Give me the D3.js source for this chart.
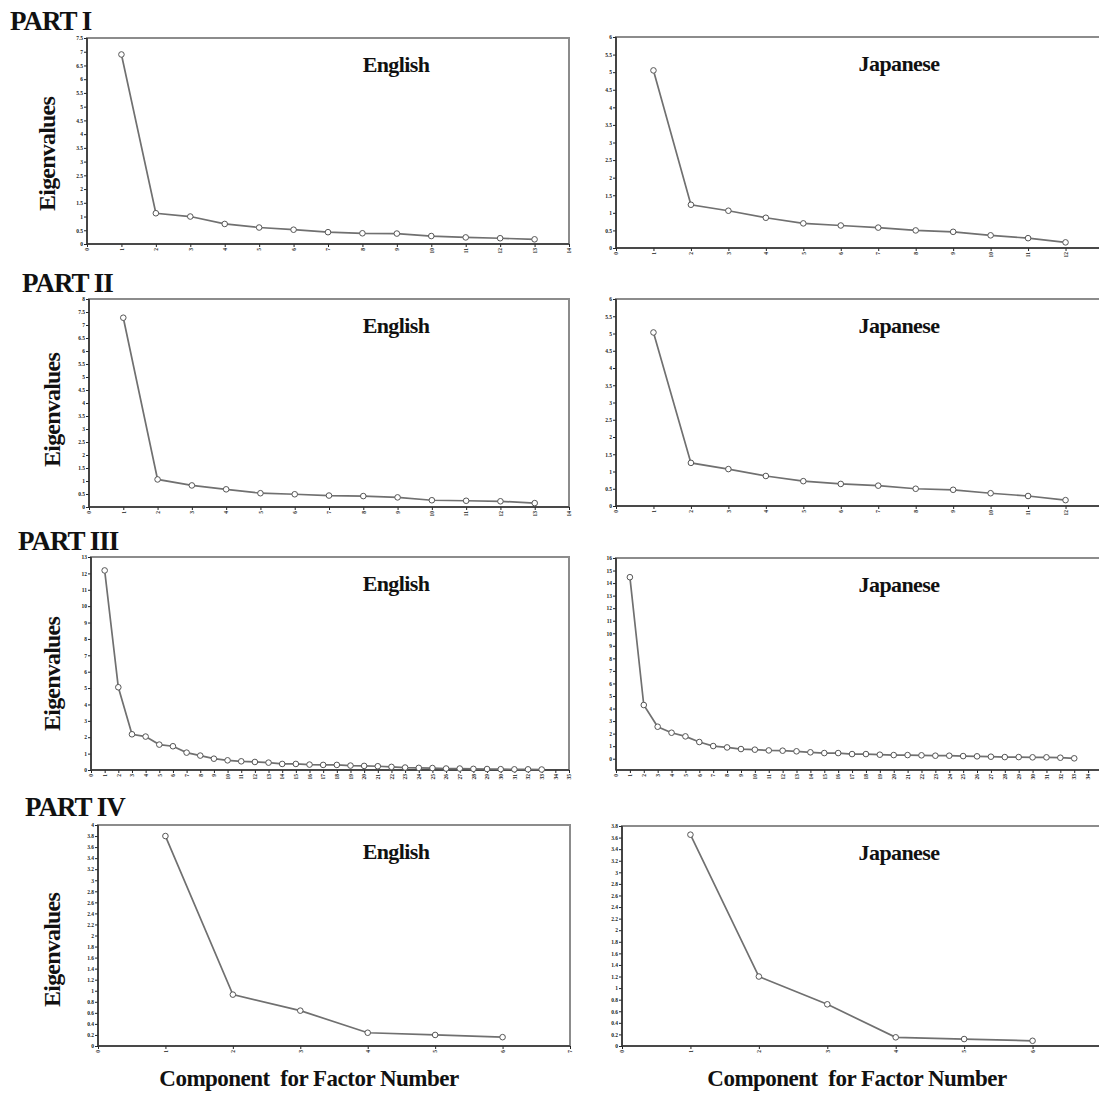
<!DOCTYPE html>
<html>
<head>
<meta charset="utf-8">
<script src="https://cdn.jsdelivr.net/npm/d3@7"></script>
<style>
  body { margin: 0; background: #fff; }
  text { font-family: "Liberation Serif", "Times New Roman", serif; }
</style>
</head>
<body>
<div id="chart"></div>
<script>
// scree plots: eigenvalues per component, English vs Japanese, four parts
var partLabels = ["PART I", "PART II", "PART III", "PART IV"];
var panelTitles = ["English", "Japanese"];

var engI  = [6.90, 1.12, 1.00, 0.73, 0.60, 0.52, 0.43, 0.39, 0.38, 0.29, 0.24, 0.21, 0.17];
var jpnI  = [5.05, 1.23, 1.06, 0.86, 0.70, 0.64, 0.58, 0.50, 0.46, 0.36, 0.28, 0.16];
var engII = [7.28, 1.06, 0.83, 0.68, 0.53, 0.49, 0.44, 0.42, 0.37, 0.26, 0.24, 0.22, 0.15];
var jpnII = [5.03, 1.25, 1.07, 0.87, 0.72, 0.64, 0.59, 0.50, 0.47, 0.37, 0.29, 0.17];
var engIII = [12.18, 5.05, 2.18, 2.04, 1.55, 1.45, 1.06, 0.88, 0.69, 0.59, 0.53, 0.49, 0.45,
              0.37, 0.37, 0.33, 0.31, 0.31, 0.27, 0.25, 0.23, 0.19, 0.15, 0.13, 0.12, 0.09,
              0.09, 0.07, 0.06, 0.05, 0.04, 0.04, 0.03];
var jpnIII = [14.47, 4.28, 2.55, 2.07, 1.78, 1.33, 1.01, 0.90, 0.77, 0.72, 0.66, 0.64, 0.59,
              0.51, 0.45, 0.45, 0.37, 0.37, 0.32, 0.29, 0.29, 0.27, 0.24, 0.24, 0.21, 0.19,
              0.16, 0.13, 0.13, 0.11, 0.11, 0.08, 0.03];
var engIV = [3.80, 0.93, 0.64, 0.24, 0.20, 0.16];
var jpnIV = [3.65, 1.20, 0.72, 0.15, 0.12, 0.09];

// y tick settings per panel
var yMaxes = [7.5, 6, 8, 6, 13, 16, 4, 3.8];
var yMins  = [0, 0, 0, 0, 0, -0.9, 0, 0];
var ySteps = [0.5, 0.5, 0.5, 0.5, 1, 1, 0.2, 0.2];
var xMaxes = [14, 13, 14, 13, 35, 35, 7, 7];

var W = 1099, H = 1096;
var svg = d3.select("#chart").append("svg")
    .attr("width", W).attr("height", H);

// frame boxes [left, top, right, bottom]
var boxes = [
  [87, 38, 569, 244], [616, 37, 1103, 248],
  [89, 299, 569, 507], [616, 299, 1103, 506],
  [91, 557, 569, 770], [616, 558, 1102, 770],
  [98, 825, 570, 1046], [622, 826, 1101, 1046]
];
var seriesList = [engI, jpnI, engII, jpnII, engIII, jpnIII, engIV, jpnIV];

var fmt = function (v) { return String(+v.toFixed(1)); };

seriesList.forEach(function (vals, i) {
  var b = boxes[i];
  var x = d3.scaleLinear().domain([0, xMaxes[i]]).range([b[0], b[2]]);
  var y = d3.scaleLinear().domain([yMins[i], yMaxes[i]]).range([b[3], b[1]]);
  var g = svg.append("g");

  // frame (right side runs off the page on the Japanese panels)
  g.append("rect")
    .attr("x", b[0]).attr("y", b[1])
    .attr("width", b[2] - b[0]).attr("height", b[3] - b[1])
    .attr("fill", "none").attr("stroke", "#8c8c8c").attr("stroke-width", 2);

  // y axis
  var yTicks = d3.range(0, yMaxes[i] + 1e-6, ySteps[i]);
  var yAx = g.append("g")
    .attr("transform", "translate(" + b[0] + ",0)")
    .call(d3.axisLeft(y).tickValues(yTicks).tickSize(3).tickPadding(1).tickFormat(fmt));
  yAx.select(".domain").remove();
  yAx.selectAll("text").attr("font-size", 5.5).attr("font-weight", "bold").attr("fill", "#222");
  yAx.selectAll("line").attr("stroke", "#222");
  g.append("line")
    .attr("x1", b[0]).attr("x2", b[0]).attr("y1", b[1]).attr("y2", b[3])
    .attr("stroke", "#333").attr("stroke-width", 1.6);

  // x axis (only the ticks that fall on the page)
  var xTicks = d3.range(0, xMaxes[i] + 1).filter(function (t) { return x(t) <= W - 4; });
  var xAx = g.append("g")
    .attr("transform", "translate(0," + b[3] + ")")
    .call(d3.axisBottom(x).tickValues(xTicks)
      .tickSize(3).tickPadding(1).tickFormat(d3.format("d")));
  xAx.select(".domain").remove();
  xAx.selectAll("line").attr("stroke", "#222");
  xAx.selectAll("text")
    .attr("font-size", 5.5).attr("font-weight", "bold").attr("fill", "#222")
    .attr("text-anchor", "end").attr("dy", "0.32em")
    .attr("transform", "translate(0,4) rotate(-90)")
    .attr("x", 0).attr("y", 0);
  g.append("line")
    .attr("x1", b[0]).attr("x2", b[2]).attr("y1", b[3]).attr("y2", b[3])
    .attr("stroke", "#333").attr("stroke-width", 1.6);

  // scree line
  var pts = vals.map(function (v, k) { return [k + 1, v]; });
  g.append("path")
    .datum(pts)
    .attr("fill", "none").attr("stroke", "#707070").attr("stroke-width", 1.7)
    .attr("d", d3.line().x(function (d) { return x(d[0]); }).y(function (d) { return y(d[1]); }));
  g.selectAll("circle").data(pts).enter().append("circle")
    .attr("cx", function (d) { return x(d[0]); })
    .attr("cy", function (d) { return y(d[1]); })
    .attr("r", 2.8)
    .attr("fill", "#fff").attr("stroke", "#555").attr("stroke-width", 1);

  // panel title
  var tx = i % 2 === 0 ? 396 : 899;
  g.append("text")
    .attr("x", tx).attr("y", b[1] + 34)
    .attr("text-anchor", "middle").attr("font-size", 22).attr("font-weight", "bold")
    .attr("fill", "#111").attr("letter-spacing", -0.6)
    .text(panelTitles[i % 2]);
});

// part labels
var partPos = [[10, 30], [22, 292], [18, 550], [25, 816]];
partLabels.forEach(function (t, i) {
  svg.append("text")
    .attr("x", partPos[i][0]).attr("y", partPos[i][1])
    .attr("font-size", 27).attr("font-weight", "bold").attr("fill", "#111")
    .attr("letter-spacing", -1)
    .text(t);
});

// y axis titles
var ylabCenters = [[47, 154], [52, 410], [52, 674], [52, 950]];
ylabCenters.forEach(function (c) {
  svg.append("text")
    .attr("transform", "translate(" + (c[0] + 8) + "," + c[1] + ") rotate(-90)")
    .attr("text-anchor", "middle").attr("font-size", 24).attr("font-weight", "bold")
    .attr("fill", "#111").attr("letter-spacing", -0.8)
    .text("Eigenvalues");
});

// x axis titles
[309, 857].forEach(function (cx) {
  svg.append("text")
    .attr("x", cx).attr("y", 1086)
    .attr("text-anchor", "middle").attr("font-size", 23).attr("font-weight", "bold")
    .attr("fill", "#111").attr("letter-spacing", -0.5)
    .style("white-space", "pre")
    .text("Component  for Factor Number");
});
</script>
</body>
</html>
